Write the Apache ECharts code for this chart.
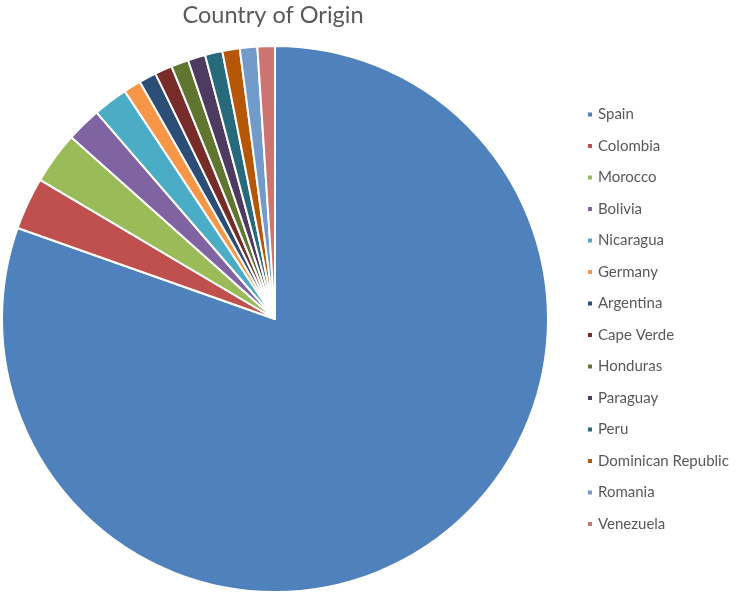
<!DOCTYPE html>
<html>
<head>
<meta charset="utf-8">
<script src="https://cdn.jsdelivr.net/npm/echarts@6/dist/echarts.min.js"></script>
<style>
  html, body { margin: 0; padding: 0; background: #fff; }
  #chart { width: 736px; height: 595px; }
</style>
</head>
<body>
<div id="chart"></div>
<script>
// country counts (1 unit ~ 3.7 degrees)
const countries = ['Spain', 'Colombia', 'Morocco', 'Bolivia', 'Nicaragua', 'Germany', 'Argentina',
  'Cape Verde', 'Honduras', 'Paraguay', 'Peru', 'Dominican Republic', 'Romania', 'Venezuela'];
const counts = [78, 3, 3, 2, 2, 1, 1, 1, 1, 1, 1, 1, 1, 1];
const colors = ['#4F81BD', '#C0504D', '#9BBB59', '#8064A2', '#4BACC6', '#F79646', '#2C4D75',
  '#772C2A', '#5F7530', '#4D3B62', '#276A7C', '#B65708', '#729ACA', '#CD7371'];

const pieData = countries.map((name, i) => ({ name: name, value: counts[i] }));

const chart = echarts.init(document.getElementById('chart'), null, { renderer: 'canvas' });
chart.setOption({
  animation: false,
  color: colors,
  title: {
    text: 'Country of Origin',
    left: 268,
    top: -2,
    textAlign: 'center',
    textStyle: {
      fontFamily: 'Lato',
      fontSize: 23.5,
      fontWeight: 'normal',
      color: '#595959'
    }
  },
  legend: {
    orient: 'vertical',
    left: 581,
    top: 102,
    icon: 'rect',
    itemWidth: 6,
    itemHeight: 6,
    itemGap: 16.5,
    textStyle: {
      fontFamily: 'Lato',
      fontSize: 15,
      lineHeight: 15,
      color: '#595959',
      padding: [0, 0, 0, 0]
    },
    data: countries
  },
  series: [
    {
      type: 'pie',
      center: [275, 319],
      radius: 273,
      startAngle: 90,
      clockwise: true,
      label: { show: false },
      labelLine: { show: false },
      itemStyle: { borderColor: '#fff', borderWidth: 2 },
      data: pieData
    }
  ]
});
</script>
</body>
</html>
